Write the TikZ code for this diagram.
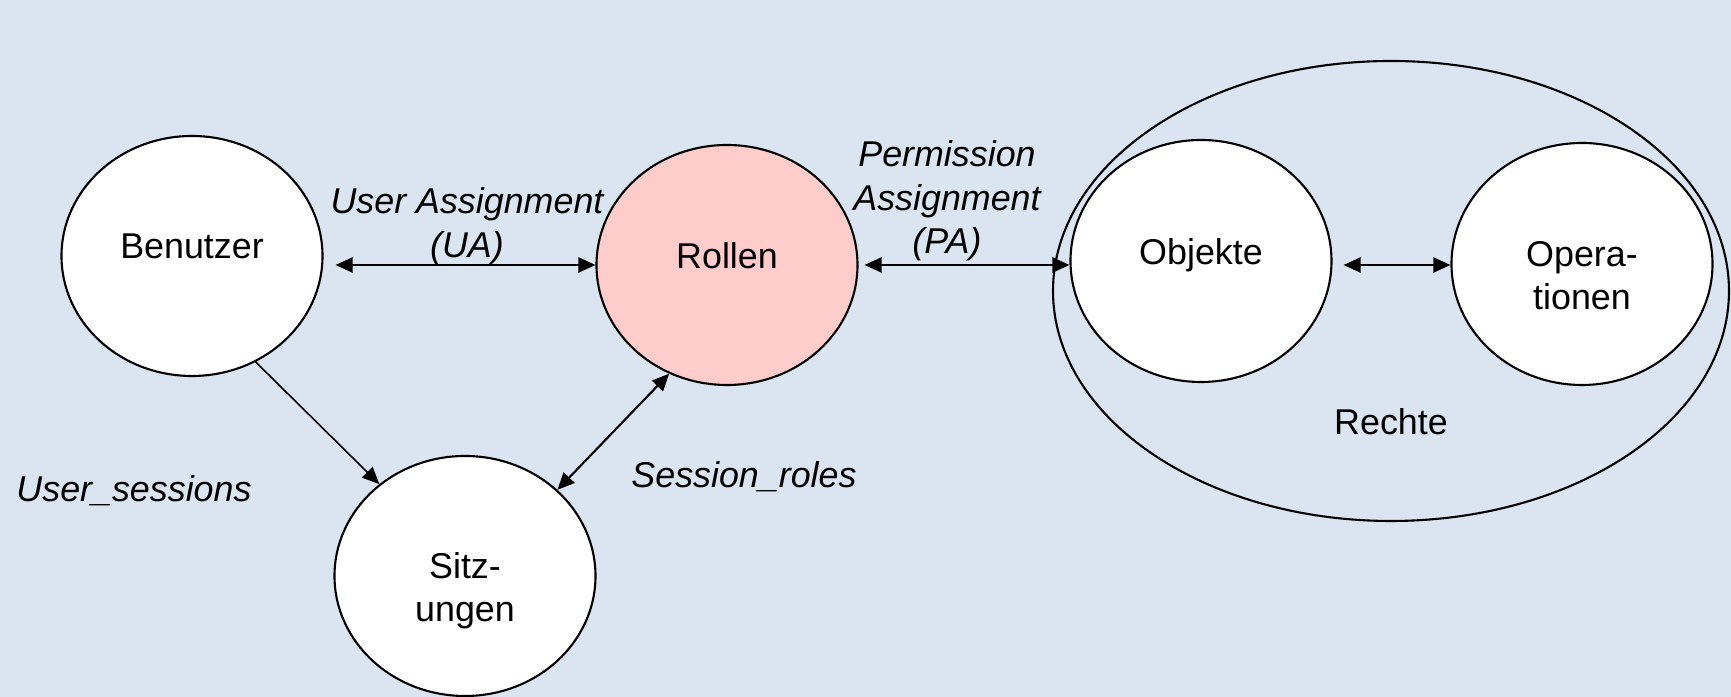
\documentclass[tikz,border=0pt]{standalone}
\usepackage{fontspec}
\setmainfont{Liberation Sans}
\usetikzlibrary{shapes.geometric}
\usetikzlibrary{arrows.meta}
\definecolor{bgblue}{RGB}{219,229,241}
\definecolor{rosa}{RGB}{255,204,204}
\tikzset{
    mynode/.style = {ellipse, line width=0.6pt, draw=black, align=center, fill=white, minimum width=2.61cm, minimum height=2.40cm, inner sep=0pt, text depth=0.19cm},
    mynoder/.style = {mynode, fill=rosa},
    mynodet/.style = {mynode, text height=1.00cm, text depth=0.08cm}, % two lines
    mynodeh/.style = {minimum height=2.42cm}, % right side
    mynodeo/.style = {ellipse, line width=0.6pt, draw=black, minimum width=6.76cm, minimum height=4.60cm},
    lbl/.style = {align=center, font=\itshape},
    edgeb/.style = {{Triangle[length=0.17cm,width=0.15cm]}-{Triangle[length=0.17cm,width=0.15cm]}, line width=0.6pt, black},
    edgen/.style = {-{Triangle[length=0.17cm,width=0.15cm]}, line width=0.45pt, black},
    every picture/.style={font issue=\fontsize{10.2pt}{12.4pt}},
    font issue/.style={execute at begin picture={#1\selectfont}}
}

\begin{document}
\begin{tikzpicture}[scale=1.00,transform shape]
\fill[bgblue] (0,0) rectangle (17.31,-6.97);
\useasboundingbox (0,0) rectangle (17.31,-6.97);

\node[mynodeo] at (13.91, -2.91) (rechte) {};
\node[mynode] at ( 1.92, -2.56) (benutzer) {Benutzer};
\node[mynoder] at ( 7.27, -2.65) (rollen) {Rollen};
\node[mynodet] at ( 4.65, -5.76) (sitzungen) {Sitz-\\ungen};
\node[mynode, mynodeh] at (12.01, -2.61) (objekte) {Objekte};
\node[mynodet, mynodeh] at (15.82, -2.64) (operationen) {Opera-\\tionen};

\node[lbl] at ( 4.67, -2.26) (ua) {User Assignment\\(UA)};
\node[lbl] at ( 9.47, -2.01) (pa) {Permission\\Assignment\\(PA)};
\node[lbl, anchor=base] at ( 1.34, -5.02) (us) {User\_sessions};
\node[lbl, anchor=base] at ( 7.44, -4.88) (sr) {Session\_roles};
\node[anchor=base] at (13.91, -4.35) (rlbl) {Rechte};

\draw[edgeb, shorten <=0.12cm] (benutzer.east |- rollen.west) -- (rollen.west);
\draw[edgeb, shorten <=0.06cm] (rollen.east) -- (objekte.west |- rollen.east);
\draw[edgeb, shorten <=0.11cm] (objekte.east |- rollen.east) -- (operationen.west |- rollen.east);
\draw[edgen] (benutzer.-59) -- (sitzungen.133);
\draw[edgeb] (sitzungen.43) -- (rollen.-118);

\end{tikzpicture}
\end{document}
